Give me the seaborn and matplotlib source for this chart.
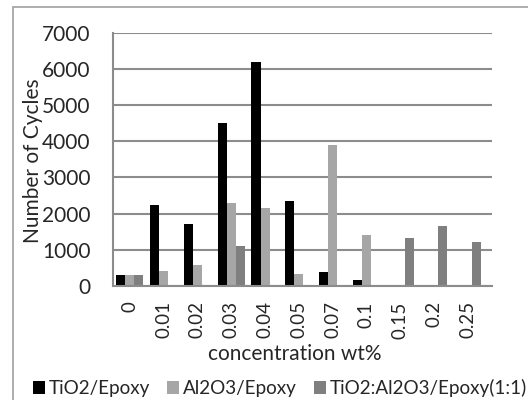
import matplotlib
matplotlib.use("Agg")
import matplotlib.pyplot as plt
from matplotlib.patches import Rectangle
import pandas as pd
import seaborn as sns

# Fatigue life for each filler concentration
concentrations = ["0", "0.01", "0.02", "0.03", "0.04", "0.05", "0.07", "0.1", "0.15", "0.2", "0.25"]
tio2_epoxy = [300, 2250, 1700, 4500, 6200, 2350, 390, 170, 0, 0, 0]
al2o3_epoxy = [300, 410, 580, 2300, 2150, 330, 3900, 1410, 0, 0, 0]
hybrid_epoxy = [300, 0, 0, 1100, 0, 0, 0, 0, 1330, 1660, 1215]
series_names = ["TiO2/Epoxy", "Al2O3/Epoxy", "TiO2:Al2O3/Epoxy(1:1)"]
colors = ["#000000", "#a6a6a6", "#7f7f7f"]
y_ticks = [0, 1000, 2000, 3000, 4000, 5000, 6000, 7000]

frames = []
for name, vals in zip(series_names, [tio2_epoxy, al2o3_epoxy, hybrid_epoxy]):
    frames.append(pd.DataFrame({"conc": concentrations, "cycles": vals, "series": name}))
df = pd.concat(frames, ignore_index=True)

sns.set_style("white")
plt.rcParams["font.family"] = ["Lato", "DejaVu Sans"]
FS = 15

W, H = 528, 400
fig = plt.figure(figsize=(W / 100, H / 100), dpi=100)
ax_l, ax_r, ax_b, ax_t = 113, 492, 286, 32.6
ax = fig.add_axes([ax_l / W, 1 - ax_b / H, (ax_r - ax_l) / W, (ax_b - ax_t) / H])

sns.barplot(data=df, x="conc", y="cycles", hue="series", order=concentrations,
            hue_order=series_names, palette=colors, width=0.8, ax=ax,
            edgecolor="none", linewidth=0, legend=True)

ax.set_xlim(-0.5, 10.72)
ax.set_ylim(0, 7000)
ax.set_yticks(y_ticks)
ax.set_yticklabels([str(v) for v in y_ticks], fontsize=FS)
ax.set_xticks(range(len(concentrations)))
ax.set_xticklabels(concentrations, rotation=90, fontsize=13.5)
ax.set_xticks([i - 0.5 for i in range(len(concentrations) + 1)], minor=True)
ax.tick_params(axis="x", which="major", length=0, pad=11)
ax.tick_params(axis="x", which="minor", length=6, width=1.3, color="#8c8c8c", direction="out")
ax.tick_params(axis="y", length=6, width=1.3, color="#8c8c8c", direction="out", pad=10)

ax.yaxis.grid(True, color="#8c8c8c", linewidth=1.5)
ax.set_axisbelow(True)
for side in ["top", "right"]:
    ax.spines[side].set_visible(False)
for side in ["left", "bottom"]:
    ax.spines[side].set_color("#8c8c8c")
    ax.spines[side].set_linewidth(1.5)

ax.set_xlabel("concentration wt%", fontsize=FS)
ax.set_ylabel("Number of Cycles", fontsize=FS)
ax.yaxis.set_label_coords((43 - ax_l) / (ax_r - ax_l), (ax_b - 161) / (ax_b - ax_t))
ax.xaxis.set_label_coords((295 - ax_l) / (ax_r - ax_l), (ax_b - 344) / (ax_b - ax_t))

handles, labels = ax.get_legend_handles_labels()
ax.get_legend().remove()
fig.legend(handles, labels, loc="center", bbox_to_anchor=(280 / W, 1 - 388 / H),
           ncol=3, frameon=False, fontsize=13.6, handlelength=0.65, handleheight=0.65,
           handletextpad=0.2, columnspacing=0.9, borderaxespad=0)

# chart area border
fig.add_artist(Rectangle((13 / W, -0.05), 1.2, 1.05 - 7 / H, transform=fig.transFigure,
                         fill=False, edgecolor="#a0a0a0", linewidth=1.2))

fig.savefig("out.png", dpi=100)
